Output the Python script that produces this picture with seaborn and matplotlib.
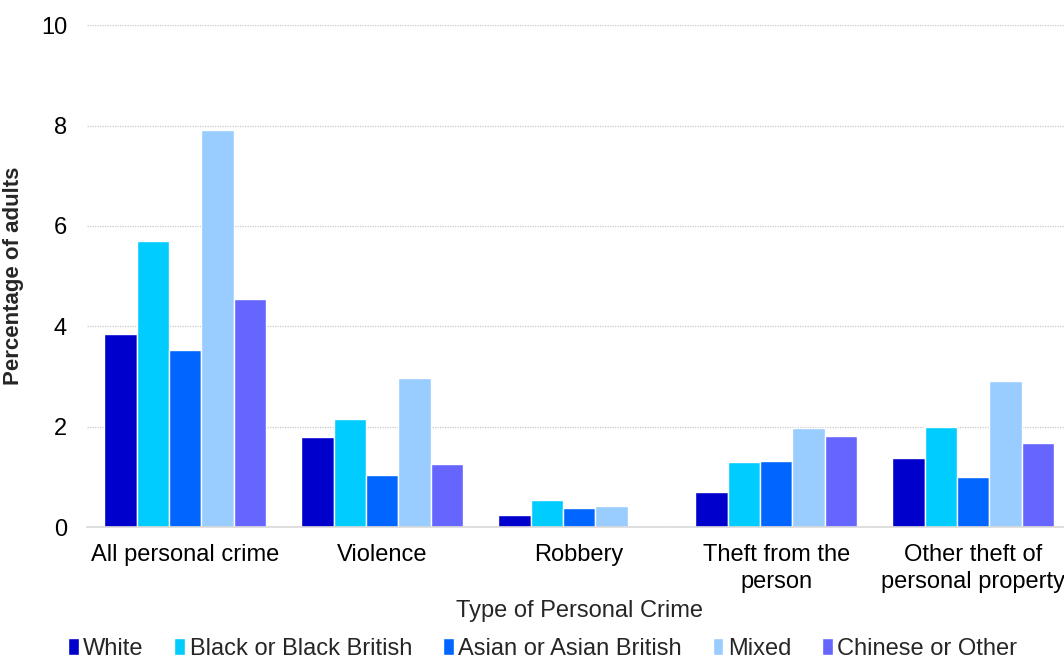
import numpy as np
import pandas as pd
import matplotlib
matplotlib.use("Agg")
import matplotlib.pyplot as plt
import seaborn as sns

# --- datos ---
crimes = ["All personal crime", "Violence", "Robbery",
          "Theft from the\nperson", "Other theft of\npersonal property"]
groups = ["White", "Black or Black British", "Asian or Asian British",
          "Mixed", "Chinese or Other"]

white = [3.84, 1.80, 0.23, 0.70, 1.37]
black = [5.70, 2.15, 0.53, 1.29, 2.00]
asian = [3.53, 1.04, 0.38, 1.31, 0.99]
mixed = [7.92, 2.97, 0.41, 1.98, 2.90]
chinese = [4.54, 1.25, np.nan, 1.82, 1.67]

colors = ["#0000CC", "#00CCFF", "#0066FF", "#99CCFF", "#6666FF"]

rows = []
for g, vals in zip(groups, [white, black, asian, mixed, chinese]):
    for c, v in zip(crimes, vals):
        rows.append({"crime": c, "group": g, "value": v})
df = pd.DataFrame(rows)

sns.set_style("white")
plt.rcParams['font.family'] = ['Liberation Sans', 'DejaVu Sans']

fig = plt.figure(figsize=(10.64, 6.63), dpi=100)
ax = fig.add_axes([0.0813, 0.2051, 0.926, 0.757])

sns.barplot(data=df, x="crime", y="value", hue="group", order=crimes,
            hue_order=groups, palette=colors, width=0.82, saturation=1,
            ax=ax, legend=True)

ax.set_ylim(0, 10)
ax.set_yticks([0, 2, 4, 6, 8, 10])
ax.yaxis.grid(True, linestyle=(0, (1, 1)), color="#C8C8C8", linewidth=0.9)
ax.set_axisbelow(True)
for s in ["left", "right", "top"]:
    ax.spines[s].set_visible(False)
ax.spines["bottom"].set_color("#D9D9D9")
ax.spines["bottom"].set_linewidth(1.2)
ax.tick_params(axis="both", length=0, labelsize=17, colors="black")
ax.tick_params(axis="x", pad=12)
ax.tick_params(axis="y", pad=14)
for t in ax.get_xticklabels():
    t.set_linespacing(1.3)

ax.set_ylabel("Percentage of adults", fontsize=16, fontweight="bold", labelpad=12)
ax.set_xlabel("Type of Personal Crime", fontsize=17, labelpad=5)

handles, labels = ax.get_legend_handles_labels()
ax.get_legend().remove()
fig.legend(handles, labels, loc="lower center", bbox_to_anchor=(0.51, -0.027),
           ncol=5, frameon=False, fontsize=17, handlelength=0.45,
           handleheight=0.75, handletextpad=0.2, columnspacing=1.3)

fig.savefig("out.png", dpi=100)
